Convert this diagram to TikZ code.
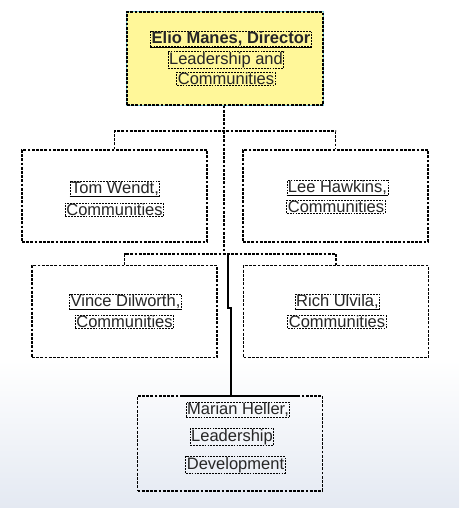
\documentclass[tikz,border=0pt]{standalone}
\usepackage{fontspec}
\setmainfont{Liberation Sans}
\definecolor{boxyellow}{RGB}{255,247,153}
\definecolor{selcyan}{RGB}{120,205,225}
\definecolor{bgbottom}{RGB}{228,233,242}
\begin{document}
\begin{tikzpicture}[x=1pt,y=-1pt,
  unitbox/.style={draw=black, line width=1.2pt, dash pattern=on 2.8pt off 1.4pt,
    minimum width=185pt, minimum height=92pt, inner sep=0pt},
  topbox/.style={unitbox, fill=boxyellow, minimum width=196pt, minimum height=93pt},
  lbl/.style={draw=black, line width=0.8pt, dash pattern=on 1.8pt off 1.1pt,
    inner xsep=1pt, inner ysep=0.5pt, font=\fontsize{16.5}{19}\selectfont, text=black!85},
  namelbl/.style={lbl},
  conn/.style={line width=1.2pt, dash pattern=on 2.8pt off 1.4pt},
  solidconn/.style={line width=1.3pt},
  uline/.style={line width=1pt}
  ]
\useasboundingbox (0,0) rectangle (459,508);
% background
\fill[white] (0,0) rectangle (459,360);
\shade[top color=white, bottom color=bgbottom] (0,360) rectangle (459,508);

% boxes
\draw[selcyan, line width=2.8pt] (127,12) rectangle (323,105);
\node[topbox] (elio) at (225,58.5) {};
\node[unitbox] (tom) at (114.5,196) {};
\node[unitbox] (lee) at (335.5,196) {};
\node[unitbox] (vince) at (124.5,311.5) {};
\node[unitbox] (rich) at (336,311.5) {};
\node[unitbox, minimum height=95pt] (marian) at (230,443.5) {};

% labels
\node[namelbl, font=\fontsize{16.5}{19}\bfseries\selectfont] (elio1) at (231,39) {Elio Manes, Director};
\node[lbl] (elio2) at (226,60) {Leadership and};
\node[lbl] (elio3) at (226,79) {Communities};
\draw[uline] (elio1.south west) -- (elio1.south east);

\node[namelbl] (tom1) at (115,189) {Tom Wendt,};
\node[lbl] (tom2) at (114.5,210) {Communities};
\draw[uline] (tom1.south west) -- (tom1.south east);

\node[namelbl] (lee1) at (337.5,188) {Lee Hawkins,};
\node[lbl] (lee2) at (336,207) {Communities};
\draw[uline] (lee1.south west) -- (lee1.south east);

\node[namelbl] (vince1) at (125.5,302) {Vince Dilworth,};
\node[lbl] (vince2) at (124.5,322) {Communities};
\draw[uline] (vince1.south west) -- (vince1.south east);

\node[namelbl] (rich1) at (337.5,302) {Rich Ulvila,};
\node[lbl] (rich2) at (337,322) {Communities};
\draw[uline] (rich1.south west) -- (rich1.south east);

\node[namelbl] (marian1) at (238,410) {Marian Heller,};
\node[lbl] (marian2) at (232,437) {Leadership};
\node[lbl] (marian3) at (235.5,465) {Development};

% connector coordinates
\coordinate (j1) at (224,131);
\coordinate (j2) at (224,254);
\coordinate (j3) at (228,254);
\coordinate (k1) at (228,308);
\coordinate (k2) at (231,308);

% connectors
\draw[conn] (elio.south -| j1) -- (j1);
\draw[conn] (tom.north) |- (j1) -| (lee.north);
\draw[conn] (j1) -- (j2);
\draw[conn] (vince.north) |- (j2) -| (rich.north);
\draw[solidconn] (j3) -- (k1) -- (k2) -- (marian.north -| k2);
\draw[solidconn] (182,396) -- (297,396);
\end{tikzpicture}
\end{document}
